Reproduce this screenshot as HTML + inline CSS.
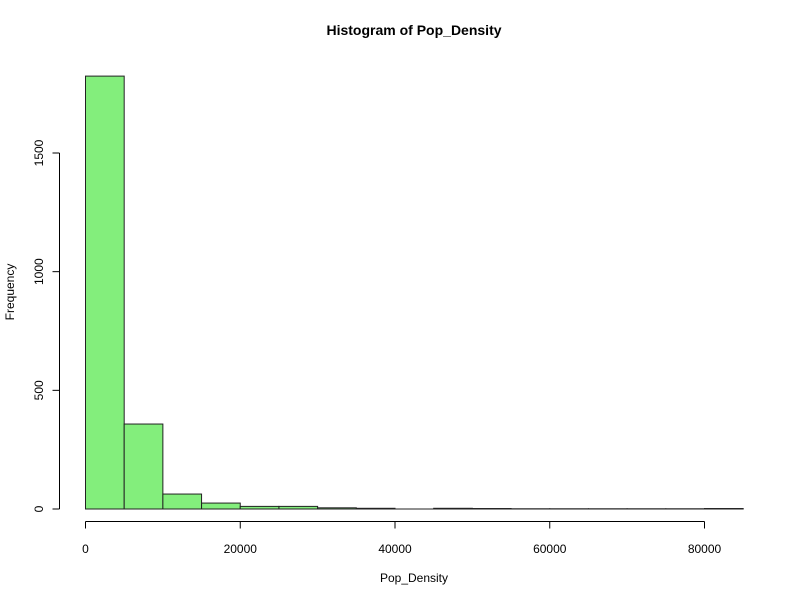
<!DOCTYPE html>
<html><head><meta charset="utf-8"><style>body{margin:0;background:#fff}svg{display:block;font-family:"Liberation Sans",Arial,sans-serif}</style></head>
<body>
<svg id="c" width="800" height="600">
<text x="414" y="35" text-anchor="middle" font-weight="bold" font-size="14">Histogram of Pop_Density</text>
<text x="414" y="582" text-anchor="middle" font-size="12">Pop_Density</text>
<text transform="translate(14,292) rotate(-90)" text-anchor="middle" font-size="12">Frequency</text>
<g id="bars"></g><g id="ax"></g>
</svg>
<script>
const binStarts=[0,5000,10000,15000,20000,25000,30000,35000,40000,45000,50000,55000,60000,65000,70000,75000,80000];
const counts=[1824,358,63,25,11,11,5,3,0,3,2,1,1,1,1,1,2];
const xTicks=[0,20000,40000,60000,80000];
const yTicks=[0,500,1000,1500];
const binWidth=5000;
const NS="http://www.w3.org/2000/svg";
const X=v=>85.5+v*(619/80000);
const Y=v=>509-v*(356/1500);
const svg=document.getElementById('c'),bars=document.getElementById('bars'),ax=document.getElementById('ax');
function mk(tag,attrs,parent){const e=document.createElementNS(NS,tag);for(const k in attrs)e.setAttribute(k,attrs[k]);parent.appendChild(e);return e;}
counts.forEach((c,i)=>{
  const x0=X(binStarts[i]),x1=X(binStarts[i]+binWidth);
  let r;
  if(c===0){
    r=mk('line',{x1:x0,x2:x1,y1:Y(0),y2:Y(0),stroke:'#222','stroke-width':1},bars);
  } else {
    r=mk('rect',{x:x0,y:Y(c),width:x1-x0,height:Y(0)-Y(c),fill:'#83ee7c',stroke:'#222','stroke-width':1},bars);
  }
  
  
});
const xl=mk('line',{x1:X(xTicks[0]),x2:X(xTicks[xTicks.length-1]),y1:521.5,y2:521.5,stroke:'#000'},ax);


xTicks.forEach(t=>{
  mk('line',{x1:X(t),x2:X(t),y1:521.5,y2:528.5,stroke:'#000'},ax);
  const tx=mk('text',{x:X(t),y:553,'text-anchor':'middle','font-size':12},ax);tx.textContent=t;
  
  
});
const yl=mk('line',{x1:59.5,x2:59.5,y1:Y(yTicks[0]),y2:Y(yTicks[yTicks.length-1]),stroke:'#000'},ax);


yTicks.forEach(t=>{
  mk('line',{x1:52.5,x2:59.5,y1:Y(t),y2:Y(t),stroke:'#000'},ax);
  const tx=mk('text',{transform:`translate(43,${Y(t)}) rotate(-90)`,'text-anchor':'middle','font-size':12},ax);tx.textContent=t;
  
  
});
</script>
</body></html>
